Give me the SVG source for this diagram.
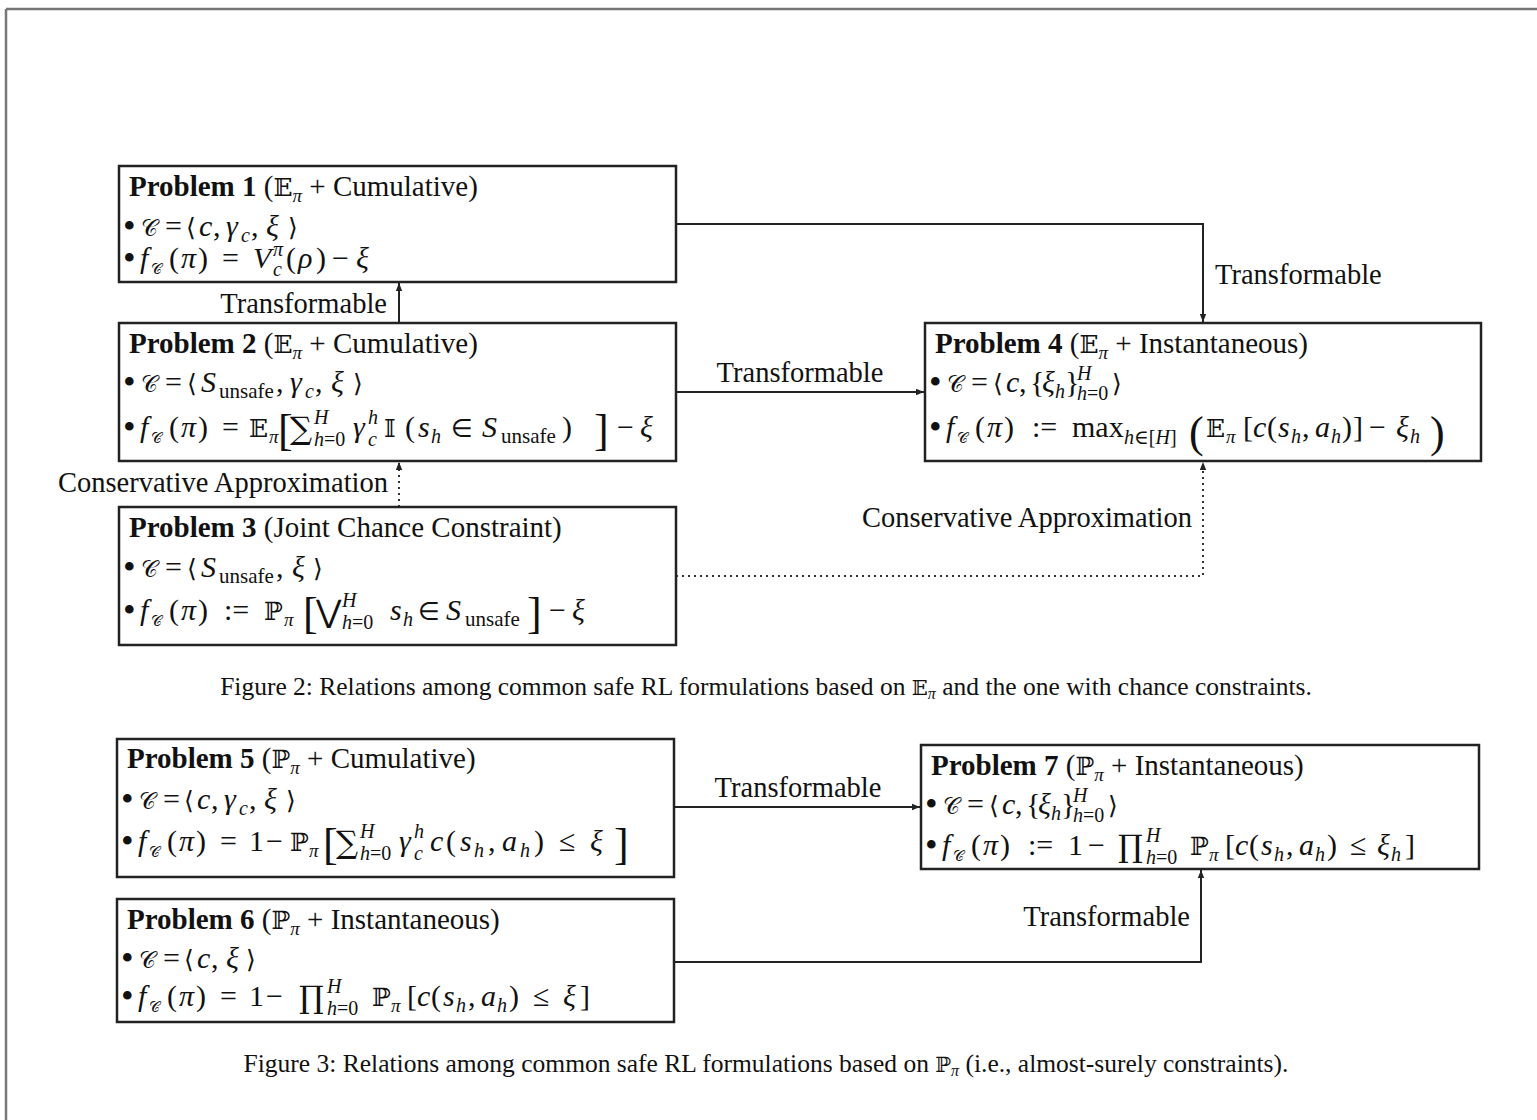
<svg xmlns="http://www.w3.org/2000/svg" width="1537" height="1120" viewBox="0 0 1537 1120">
<defs>
<style>
text{font-family:"Liberation Serif","DejaVu Serif",serif;fill:#111}
.t{font-size:29px}
.lb{font-size:28.5px}
.m{font-size:30px}
.bu{font-size:36px}
.b{font-weight:bold}
.i{font-style:italic}
.s{font-size:20px}
.u{font-size:21px}
.ts{font-size:19px;font-style:italic}
.big{font-size:44px}
.ds{font-family:"DejaVu Serif","DejaVu Sans",serif;font-size:25px}
.op{font-family:"DejaVu Serif","DejaVu Sans",serif;font-size:31px}
.sm{font-family:"DejaVu Sans",serif;font-size:25px}
.cc{font-family:"DejaVu Sans",serif;font-size:23px}
.ccs{font-family:"DejaVu Sans",serif;font-size:15px}
.cap{font-size:25.5px}
.box{fill:#fff;stroke:#222;stroke-width:2.5}
.ln{fill:none;stroke:#222;stroke-width:2}
.dot{fill:none;stroke:#333;stroke-width:2;stroke-dasharray:2 4}
.frame{stroke:#777;stroke-width:2.5}
</style>
<marker id="ah" viewBox="0 0 10 10" refX="10" refY="5" markerWidth="8" markerHeight="8" markerUnits="userSpaceOnUse" orient="auto">
<path d="M0,1 L10,5 L0,9 z" fill="#222"/>
</marker>
</defs>
<rect x="0" y="0" width="1537" height="1120" fill="#fff"/>
<line class="frame" x1="6" y1="9" x2="1537" y2="9"/>
<line class="frame" x1="6" y1="9" x2="6" y2="1120"/>

<g id="connectors">
<polyline class="ln" points="676,224 1203,224 1203,322" marker-end="url(#ah)"/>
<line class="ln" x1="399" y1="323" x2="399" y2="283" marker-end="url(#ah)"/>
<line class="ln" x1="676" y1="392" x2="924" y2="392" marker-end="url(#ah)"/>
<line class="dot" x1="399" y1="507" x2="399" y2="462" marker-end="url(#ah)"/>
<polyline class="dot" points="676,576 1203,576 1203,462" marker-end="url(#ah)"/>
<line class="ln" x1="674" y1="807" x2="920" y2="807" marker-end="url(#ah)"/>
<polyline class="ln" points="674,962 1201,962 1201,870" marker-end="url(#ah)"/>
<text class="lb" x="1215" y="284">Transformable</text>
<text class="lb" x="387" y="313" text-anchor="end">Transformable</text>
<text class="lb" x="800" y="382" text-anchor="middle">Transformable</text>
<text class="lb" x="388" y="492" text-anchor="end">Conservative Approximation</text>
<text class="lb" x="1192" y="527" text-anchor="end">Conservative Approximation</text>
<text class="lb" x="798" y="797" text-anchor="middle">Transformable</text>
<text class="lb" x="1190" y="926" text-anchor="end">Transformable</text>
</g>

<g id="problem1">
<rect class="box" x="119" y="166" width="557" height="116"/>
<text class="t" x="129" y="196"><tspan class="b">Problem 1</tspan> (<tspan class="ds">𝔼</tspan><tspan class="ts" y="202">π</tspan><tspan y="196"> + Cumulative)</tspan></text>
<text class="m"><tspan class="bu" x="123" y="238">•</tspan><tspan class="cc" x="141" y="236">𝒞</tspan><tspan x="165" y="236">=</tspan><tspan class="sm" x="186" y="236">⟨</tspan><tspan class="i" x="199" y="236">c</tspan><tspan x="213" y="236">,</tspan><tspan class="i" x="226" y="236">γ</tspan><tspan class="s i" x="241" y="242">c</tspan><tspan x="251" y="236">,</tspan><tspan class="i" x="266" y="236">ξ</tspan><tspan class="sm" x="288" y="236">⟩</tspan></text>
<text class="m"><tspan class="bu" x="123" y="270">•</tspan><tspan class="i" x="140" y="268">f</tspan><tspan class="ccs" x="151" y="274">𝒞</tspan><tspan x="169" y="268">(</tspan><tspan class="i" x="181" y="268">π</tspan><tspan x="198" y="268">)</tspan><tspan x="222" y="268">=</tspan><tspan class="i" x="253" y="268">V</tspan><tspan class="s i" x="273" y="256">π</tspan><tspan class="s i" x="273" y="276">c</tspan><tspan x="286" y="268">(</tspan><tspan class="i" x="298" y="268">ρ</tspan><tspan x="316" y="268">)</tspan><tspan x="332" y="268">−</tspan><tspan class="i" x="356" y="268">ξ</tspan></text>
</g>

<g id="problem2">
<rect class="box" x="119" y="323" width="557" height="138"/>
<text class="t" x="129" y="353"><tspan class="b">Problem 2</tspan> (<tspan class="ds">𝔼</tspan><tspan class="ts" y="359">π</tspan><tspan y="353"> + Cumulative)</tspan></text>
<text class="m"><tspan class="bu" x="123" y="394">•</tspan><tspan class="cc" x="141" y="392">𝒞</tspan><tspan x="165" y="392">=</tspan><tspan class="sm" x="187" y="392">⟨</tspan><tspan class="i" x="201" y="392">S</tspan><tspan class="u" x="219" y="398">unsafe</tspan><tspan x="276" y="392">,</tspan><tspan class="i" x="290" y="392">γ</tspan><tspan class="s i" x="305" y="398">c</tspan><tspan x="315" y="392">,</tspan><tspan class="i" x="331" y="392">ξ</tspan><tspan class="sm" x="353" y="392">⟩</tspan></text>
<text class="m"><tspan class="bu" x="123" y="439">•</tspan><tspan class="i" x="140" y="437">f</tspan><tspan class="ccs" x="151" y="443">𝒞</tspan><tspan x="169" y="437">(</tspan><tspan class="i" x="181" y="437">π</tspan><tspan x="198" y="437">)</tspan><tspan x="222" y="437">=</tspan><tspan class="ds" x="249" y="437">𝔼</tspan><tspan class="ts" x="269" y="443">π</tspan><tspan class="big" x="278" y="445">[</tspan><tspan class="op" x="290" y="439">∑</tspan><tspan class="s i" x="314" y="424">H</tspan><tspan class="s" x="314" y="446"><tspan class="i">h</tspan>=0</tspan><tspan class="i" x="353" y="437">γ</tspan><tspan class="s i" x="368" y="424">h</tspan><tspan class="s i" x="368" y="446">c</tspan><tspan class="ds" x="384" y="437">𝕀</tspan><tspan x="405" y="437">(</tspan><tspan class="i" x="418" y="437">s</tspan><tspan class="s i" x="431" y="443">h</tspan><tspan class="sm" x="451" y="437">∈</tspan><tspan class="i" x="482" y="437">S</tspan><tspan class="u" x="501" y="443">unsafe</tspan><tspan x="562" y="437">)</tspan><tspan class="big" x="594" y="445">]</tspan><tspan x="617" y="437">−</tspan><tspan class="i" x="640" y="437">ξ</tspan></text>
</g>

<g id="problem3">
<rect class="box" x="119" y="507" width="557" height="138"/>
<text class="t" x="129" y="537"><tspan class="b">Problem 3</tspan> (Joint Chance Constraint)</text>
<text class="m"><tspan class="bu" x="123" y="579">•</tspan><tspan class="cc" x="141" y="577">𝒞</tspan><tspan x="165" y="577">=</tspan><tspan class="sm" x="187" y="577">⟨</tspan><tspan class="i" x="201" y="577">S</tspan><tspan class="u" x="219" y="583">unsafe</tspan><tspan x="276" y="577">,</tspan><tspan class="i" x="292" y="577">ξ</tspan><tspan class="sm" x="313" y="577">⟩</tspan></text>
<text class="m"><tspan class="bu" x="123" y="622">•</tspan><tspan class="i" x="140" y="620">f</tspan><tspan class="ccs" x="151" y="626">𝒞</tspan><tspan x="169" y="620">(</tspan><tspan class="i" x="181" y="620">π</tspan><tspan x="198" y="620">)</tspan><tspan x="224" y="620">:=</tspan><tspan class="ds" x="264" y="620">ℙ</tspan><tspan class="ts" x="284" y="626">π</tspan><tspan class="big" x="303" y="628">[</tspan><tspan class="op" x="316" y="622">⋁</tspan><tspan class="s i" x="342" y="607">H</tspan><tspan class="s" x="342" y="629"><tspan class="i">h</tspan>=0</tspan><tspan class="i" x="390" y="620">s</tspan><tspan class="s i" x="403" y="626">h</tspan><tspan class="sm" x="418" y="620">∈</tspan><tspan class="i" x="446" y="620">S</tspan><tspan class="u" x="465" y="626">unsafe</tspan><tspan class="big" x="527" y="628">]</tspan><tspan x="549" y="620">−</tspan><tspan class="i" x="572" y="620">ξ</tspan></text>
</g>

<g id="problem4">
<rect class="box" x="925" y="323" width="556" height="138"/>
<text class="t" x="935" y="353"><tspan class="b">Problem 4</tspan> (<tspan class="ds">𝔼</tspan><tspan class="ts" y="359">π</tspan><tspan y="353"> + Instantaneous)</tspan></text>
<text class="m"><tspan class="bu" x="929" y="394">•</tspan><tspan class="cc" x="947" y="392">𝒞</tspan><tspan x="971" y="392">=</tspan><tspan class="sm" x="993" y="392">⟨</tspan><tspan class="i" x="1006" y="392">c</tspan><tspan x="1019" y="392">,</tspan><tspan x="1030" y="392">{</tspan><tspan class="i" x="1042" y="392">ξ</tspan><tspan class="s i" x="1055" y="398">h</tspan><tspan x="1065" y="392">}</tspan><tspan class="s i" x="1077" y="380">H</tspan><tspan class="s" x="1077" y="400"><tspan class="i">h</tspan>=0</tspan><tspan class="sm" x="1112" y="392">⟩</tspan></text>
<text class="m"><tspan class="bu" x="929" y="439">•</tspan><tspan class="i" x="946" y="437">f</tspan><tspan class="ccs" x="957" y="443">𝒞</tspan><tspan x="975" y="437">(</tspan><tspan class="i" x="987" y="437">π</tspan><tspan x="1004" y="437">)</tspan><tspan x="1032" y="437">:=</tspan><tspan x="1072" y="437">max</tspan><tspan class="s" x="1124" y="444"><tspan class="i">h</tspan>∈[<tspan class="i">H</tspan>]</tspan><tspan class="big" x="1189" y="447">(</tspan><tspan class="ds" x="1206" y="437">𝔼</tspan><tspan class="ts" x="1226" y="443">π</tspan><tspan x="1243" y="437">[</tspan><tspan class="i" x="1253" y="437">c</tspan><tspan x="1267" y="437">(</tspan><tspan class="i" x="1278" y="437">s</tspan><tspan class="s i" x="1291" y="443">h</tspan><tspan x="1302" y="437">,</tspan><tspan class="i" x="1315" y="437">a</tspan><tspan class="s i" x="1331" y="443">h</tspan><tspan x="1342" y="437">)</tspan><tspan x="1353" y="437">]</tspan><tspan x="1369" y="437">−</tspan><tspan class="i" x="1396" y="437">ξ</tspan><tspan class="s i" x="1410" y="443">h</tspan><tspan class="big" x="1430" y="447">)</tspan></text>
</g>

<g id="problem5">
<rect class="box" x="117" y="739" width="557" height="138"/>
<text class="t" x="127" y="768"><tspan class="b">Problem 5</tspan> (<tspan class="ds">ℙ</tspan><tspan class="ts" y="774">π</tspan><tspan y="768"> + Cumulative)</tspan></text>
<text class="m"><tspan class="bu" x="121" y="811">•</tspan><tspan class="cc" x="139" y="809">𝒞</tspan><tspan x="163" y="809">=</tspan><tspan class="sm" x="184" y="809">⟨</tspan><tspan class="i" x="197" y="809">c</tspan><tspan x="211" y="809">,</tspan><tspan class="i" x="224" y="809">γ</tspan><tspan class="s i" x="239" y="815">c</tspan><tspan x="249" y="809">,</tspan><tspan class="i" x="264" y="809">ξ</tspan><tspan class="sm" x="286" y="809">⟩</tspan></text>
<text class="m"><tspan class="bu" x="121" y="853">•</tspan><tspan class="i" x="138" y="851">f</tspan><tspan class="ccs" x="149" y="857">𝒞</tspan><tspan x="167" y="851">(</tspan><tspan class="i" x="179" y="851">π</tspan><tspan x="196" y="851">)</tspan><tspan x="220" y="851">=</tspan><tspan x="249" y="851">1</tspan><tspan x="266" y="851">−</tspan><tspan class="ds" x="290" y="851">ℙ</tspan><tspan class="ts" x="309" y="857">π</tspan><tspan class="big" x="323" y="859">[</tspan><tspan class="op" x="336" y="853">∑</tspan><tspan class="s i" x="360" y="838">H</tspan><tspan class="s" x="360" y="860"><tspan class="i">h</tspan>=0</tspan><tspan class="i" x="399" y="851">γ</tspan><tspan class="s i" x="414" y="838">h</tspan><tspan class="s i" x="414" y="860">c</tspan><tspan class="i" x="430" y="851">c</tspan><tspan x="446" y="851">(</tspan><tspan class="i" x="460" y="851">s</tspan><tspan class="s i" x="474" y="857">h</tspan><tspan x="488" y="851">,</tspan><tspan class="i" x="502" y="851">a</tspan><tspan class="s i" x="520" y="857">h</tspan><tspan x="534" y="851">)</tspan><tspan x="559" y="851">≤</tspan><tspan class="i" x="590" y="851">ξ</tspan><tspan class="big" x="614" y="859">]</tspan></text>
</g>

<g id="problem6">
<rect class="box" x="117" y="899" width="557" height="123"/>
<text class="t" x="127" y="929"><tspan class="b">Problem 6</tspan> (<tspan class="ds">ℙ</tspan><tspan class="ts" y="935">π</tspan><tspan y="929"> + Instantaneous)</tspan></text>
<text class="m"><tspan class="bu" x="121" y="970">•</tspan><tspan class="cc" x="139" y="968">𝒞</tspan><tspan x="163" y="968">=</tspan><tspan class="sm" x="184" y="968">⟨</tspan><tspan class="i" x="197" y="968">c</tspan><tspan x="211" y="968">,</tspan><tspan class="i" x="226" y="968">ξ</tspan><tspan class="sm" x="246" y="968">⟩</tspan></text>
<text class="m"><tspan class="bu" x="121" y="1008">•</tspan><tspan class="i" x="138" y="1006">f</tspan><tspan class="ccs" x="149" y="1012">𝒞</tspan><tspan x="167" y="1006">(</tspan><tspan class="i" x="179" y="1006">π</tspan><tspan x="196" y="1006">)</tspan><tspan x="220" y="1006">=</tspan><tspan x="249" y="1006">1</tspan><tspan x="266" y="1006">−</tspan><tspan class="op" x="299" y="1008">∏</tspan><tspan class="s i" x="327" y="993">H</tspan><tspan class="s" x="327" y="1015"><tspan class="i">h</tspan>=0</tspan><tspan class="ds" x="372" y="1006">ℙ</tspan><tspan class="ts" x="391" y="1012">π</tspan><tspan x="407" y="1006">[</tspan><tspan class="i" x="417" y="1006">c</tspan><tspan x="431" y="1006">(</tspan><tspan class="i" x="443" y="1006">s</tspan><tspan class="s i" x="456" y="1012">h</tspan><tspan x="468" y="1006">,</tspan><tspan class="i" x="481" y="1006">a</tspan><tspan class="s i" x="497" y="1012">h</tspan><tspan x="509" y="1006">)</tspan><tspan x="533" y="1006">≤</tspan><tspan class="i" x="563" y="1006">ξ</tspan><tspan x="580" y="1006">]</tspan></text>
</g>

<g id="problem7">
<rect class="box" x="921" y="745" width="558" height="124"/>
<text class="t" x="931" y="775"><tspan class="b">Problem 7</tspan> (<tspan class="ds">ℙ</tspan><tspan class="ts" y="781">π</tspan><tspan y="775"> + Instantaneous)</tspan></text>
<text class="m"><tspan class="bu" x="925" y="816">•</tspan><tspan class="cc" x="943" y="814">𝒞</tspan><tspan x="967" y="814">=</tspan><tspan class="sm" x="989" y="814">⟨</tspan><tspan class="i" x="1002" y="814">c</tspan><tspan x="1015" y="814">,</tspan><tspan x="1026" y="814">{</tspan><tspan class="i" x="1038" y="814">ξ</tspan><tspan class="s i" x="1051" y="820">h</tspan><tspan x="1061" y="814">}</tspan><tspan class="s i" x="1073" y="802">H</tspan><tspan class="s" x="1073" y="822"><tspan class="i">h</tspan>=0</tspan><tspan class="sm" x="1108" y="814">⟩</tspan></text>
<text class="m"><tspan class="bu" x="925" y="857">•</tspan><tspan class="i" x="942" y="855">f</tspan><tspan class="ccs" x="953" y="861">𝒞</tspan><tspan x="971" y="855">(</tspan><tspan class="i" x="983" y="855">π</tspan><tspan x="1000" y="855">)</tspan><tspan x="1028" y="855">:=</tspan><tspan x="1068" y="855">1</tspan><tspan x="1088" y="855">−</tspan><tspan class="op" x="1118" y="857">∏</tspan><tspan class="s i" x="1146" y="842">H</tspan><tspan class="s" x="1146" y="864"><tspan class="i">h</tspan>=0</tspan><tspan class="ds" x="1190" y="855">ℙ</tspan><tspan class="ts" x="1209" y="861">π</tspan><tspan x="1225" y="855">[</tspan><tspan class="i" x="1235" y="855">c</tspan><tspan x="1249" y="855">(</tspan><tspan class="i" x="1261" y="855">s</tspan><tspan class="s i" x="1274" y="861">h</tspan><tspan x="1286" y="855">,</tspan><tspan class="i" x="1299" y="855">a</tspan><tspan class="s i" x="1315" y="861">h</tspan><tspan x="1327" y="855">)</tspan><tspan x="1350" y="855">≤</tspan><tspan class="i" x="1377" y="855">ξ</tspan><tspan class="s i" x="1391" y="861">h</tspan><tspan x="1405" y="855">]</tspan></text>
</g>

<text class="cap" x="766" y="695" text-anchor="middle">Figure 2: Relations among common safe RL formulations based on <tspan class="ds" style="font-size:21px">𝔼</tspan><tspan style="font-size:16px" class="i" dy="4">π</tspan><tspan dy="-4"> and the one with chance constraints.</tspan></text>
<text class="cap" x="766" y="1072" text-anchor="middle">Figure 3: Relations among common safe RL formulations based on <tspan class="ds" style="font-size:21px">ℙ</tspan><tspan style="font-size:16px" class="i" dy="4">π</tspan><tspan dy="-4"> (i.e., almost-surely constraints).</tspan></text>
</svg>
